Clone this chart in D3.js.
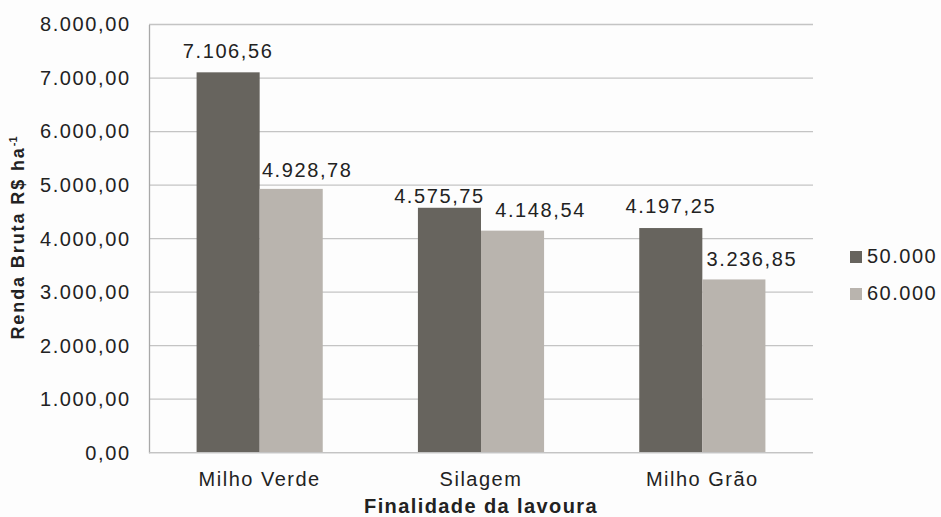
<!DOCTYPE html>
<html>
<head>
<meta charset="utf-8">
<script src="https://cdnjs.cloudflare.com/ajax/libs/d3/7.8.5/d3.min.js"></script>
<style>
  body { margin: 0; background: #fdfdfd; }
  text { font-family: "Liberation Sans", Arial, sans-serif; fill: #222; }
</style>
</head>
<body>
<div id="chart"></div>
<script>
// data
var categories = ["Milho Verde", "Silagem", "Milho Grão"];
var seriesNames = ["50.000", "60.000"];
var values50 = [7106.56, 4575.75, 4197.25];
var values60 = [4928.78, 4148.54, 3236.85];
var yTicks = [0, 1000, 2000, 3000, 4000, 5000, 6000, 7000, 8000];

var colors = ["#67645e", "#b9b4ae"];
// label nudges [dx, gap above bar] - Excel moved some labels around
var labelNudge = [[[0, 14], [16, 12]], [[-10, 5], [28, 14]], [[0, 15], [18, 13]]];

var W = 941, H = 517;
var plotLeft = 149, plotRight = 813, plotTop = 24.5, plotBottom = 452.7;
var FONT = 20, SPACING = 1.6;

var fmt = d3.formatLocale({ decimal: ",", thousands: ".", grouping: [3] }).format(",.2f");

var svg = d3.select("#chart").append("svg")
    .attr("width", W)
    .attr("height", H);

var y = d3.scaleLinear().domain([0, 8000]).range([plotBottom, plotTop]);
var x0 = d3.scaleBand().domain(categories).range([plotLeft, plotRight]);
var x1 = d3.scaleBand().domain(seriesNames)
    .range([x0.bandwidth() * 0.215, x0.bandwidth() * 0.785]);

// gridlines
svg.append("g").selectAll("line")
    .data(yTicks)
    .enter()
    .append("line")
    .attr("x1", plotLeft)
    .attr("x2", plotRight)
    .attr("y1", function(d) { return y(d); })
    .attr("y2", function(d) { return y(d); })
    .attr("stroke", "#c4c4c4")
    .attr("stroke-width", 1.3)

// y axis
var yAxis = svg.append("g")
    .attr("transform", "translate(" + plotLeft + ",0)")
    .call(d3.axisLeft(y).tickValues(yTicks).tickSize(0).tickPadding(18.4).tickFormat(fmt))
yAxis.select(".domain").attr("stroke", "#a8a8a8").attr("stroke-width", 1.3)
yAxis.selectAll("text")
    .attr("font-size", FONT + "px")
    .attr("letter-spacing", SPACING)
    .style("font-family", "'Liberation Sans', Arial, sans-serif")
    .attr("fill", "#333")

// bars
var rows = categories.map(function(c, i) {
    return { cat: c, i: i, vals: [values50[i], values60[i]] };
});

var groups = svg.selectAll("g.cat")
    .data(rows)
    .enter()
    .append("g")
    .attr("class", "cat")
    .attr("transform", function(d) { return "translate(" + x0(d.cat) + ",0)"; })

groups.selectAll("rect")
    .data(function(d) { return d.vals.map(function(v, j) { return { v: v, j: j, i: d.i }; }); })
    .enter()
    .append("rect")
    .attr("x", function(d) { return x1(seriesNames[d.j]); })
    .attr("y", function(d) { return y(d.v); })
    .attr("width", x1.bandwidth())
    .attr("height", function(d) { return plotBottom - y(d.v); })
    .attr("fill", function(d) { return colors[d.j]; })

groups.selectAll("text.val")
    .data(function(d) { return d.vals.map(function(v, j) { return { v: v, j: j, i: d.i }; }); })
    .enter()
    .append("text")
    .attr("class", "val")
    .attr("x", function(d) { return x1(seriesNames[d.j]) + x1.bandwidth() / 2 + labelNudge[d.i][d.j][0]; })
    .attr("y", function(d) { return y(d.v) - labelNudge[d.i][d.j][1]; })
    .attr("text-anchor", "middle")
    .attr("font-size", FONT + "px")
    .attr("letter-spacing", SPACING)
    .text(function(d) { return fmt(d.v); })

// x axis baseline
svg.append("line")
    .attr("x1", plotLeft)
    .attr("x2", plotRight)
    .attr("y1", plotBottom)
    .attr("y2", plotBottom)
    .attr("stroke", "#c4c4c4")
    .attr("stroke-width", 1.3)

// category labels
svg.selectAll("text.catlabel")
    .data(categories)
    .enter()
    .append("text")
    .attr("class", "catlabel")
    .attr("x", function(d) { return x0(d) + x0.bandwidth() / 2; })
    .attr("y", 486)
    .attr("text-anchor", "middle")
    .attr("font-size", FONT + "px")
    .attr("letter-spacing", 1.5)
    .text(function(d) { return d; })

// axis titles
svg.append("text")
    .attr("x", (plotLeft + plotRight) / 2)
    .attr("y", 513)
    .attr("text-anchor", "middle")
    .attr("font-size", "20px")
    .attr("font-weight", "bold")
    .attr("letter-spacing", 1.4)
    .text("Finalidade da lavoura")

var yt = svg.append("text")
    .attr("transform", "translate(24,238) rotate(-90)")
    .attr("text-anchor", "middle")
    .attr("font-size", "18px")
    .attr("font-weight", "bold")
    .attr("letter-spacing", 1.9)
yt.append("tspan").text("Renda Bruta R$ ha")
yt.append("tspan").attr("dy", -7).attr("font-size", "11px").attr("letter-spacing", 0).text("-1")

// legend
var legend = svg.selectAll("g.legend")
    .data(seriesNames)
    .enter()
    .append("g")
    .attr("class", "legend")
    .attr("transform", function(d, i) { return "translate(850," + (251 + i * 37) + ")"; })

legend.append("rect")
    .attr("width", 12)
    .attr("height", 12)
    .attr("fill", function(d, i) { return colors[i]; })

legend.append("text")
    .attr("x", 17)
    .attr("y", 12)
    .attr("font-size", FONT + "px")
    .attr("letter-spacing", 1.5)
    .text(function(d) { return d; })
</script>
</body>
</html>
